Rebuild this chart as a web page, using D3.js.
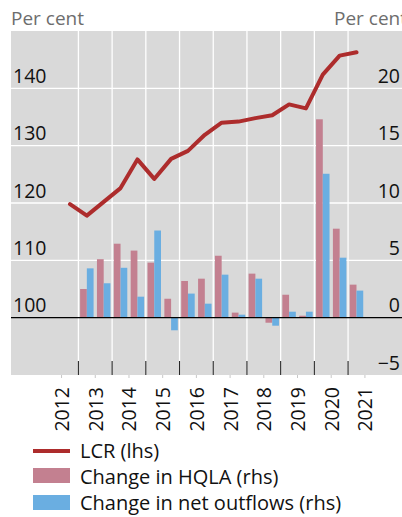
<!DOCTYPE html>
<html>
<head>
<meta charset="utf-8">
<script src="https://cdn.jsdelivr.net/npm/d3@7"></script>
<style>
  body { margin: 0; background: #fff; }
  text { font-family: "Open Sans", "Noto Sans", sans-serif; }
</style>
</head>
<body>
<svg id="vis" width="402" height="517"></svg>
<script>
// LCR, half-yearly, lhs
const lcrPeriods = ["2012 H2", "2013 H1", "2013 H2", "2014 H1", "2014 H2", "2015 H1", "2015 H2",
  "2016 H1", "2016 H2", "2017 H1", "2017 H2", "2018 H1", "2018 H2", "2019 H1", "2019 H2",
  "2020 H1", "2020 H2", "2021 H1"];
const lcrValues = [119.8, 117.8, 120.2, 122.6, 127.6, 124.2, 127.7, 129.1, 131.9, 134.0, 134.2,
  134.8, 135.3, 137.2, 136.5, 142.4, 145.7, 146.3];

// changes, rhs
const barPeriods = ["2013 H1", "2013 H2", "2014 H1", "2014 H2", "2015 H1", "2015 H2",
  "2016 H1", "2016 H2", "2017 H1", "2017 H2", "2018 H1", "2018 H2", "2019 H1", "2019 H2",
  "2020 H1", "2020 H2", "2021 H1"];
const hqlaChange = [2.5, 5.1, 6.45, 5.85, 4.8, 1.65, 3.2, 3.4, 5.4, 0.44, 3.84, -0.44, 2.0, 0.17, 17.3, 7.76, 2.88];
const outflowChange = [4.3, 3.0, 4.35, 1.83, 7.6, -1.1, 2.1, 1.22, 3.75, 0.26, 3.4, -0.7, 0.52, 0.52, 12.55, 5.23, 2.36];

const years = [2012, 2013, 2014, 2015, 2016, 2017, 2018, 2019, 2020, 2021];
const leftTicks = [100, 110, 120, 130, 140];
const rightTicks = [-5, 0, 5, 10, 15, 20];
const seriesNames = ["LCR (lhs)", "Change in HQLA (rhs)", "Change in net outflows (rhs)"];

const colors = { lcr: "#ad2c2c", hqla: "#c38090", outflow: "#6aaee1", bg: "#d9d9d9" };

const plot = { left: 11, right: 402, top: 31, bottom: 375 };

// "2013 H1" -> middle of that half year
function periodMid(p) {
  const parts = p.split(" ");
  return +parts[0] + (parts[1] === "H1" ? 0.25 : 0.75);
}

const svg = d3.select("svg#vis");

const x = d3.scaleLinear().domain([2011, 2022.6]).range([plot.left, plot.right]);
const yL = d3.scaleLinear().domain([90, 150]).range([plot.bottom, plot.top]);
const yR = d3.scaleLinear().domain([-5, 25]).range([plot.bottom, plot.top]);

const sub = d3.scaleBand().domain(["hqla", "outflow"])
  .range([-(x(2011.2) - x(2011)), x(2011.2) - x(2011)]);

// background
svg.append("rect")
  .attr("x", plot.left).attr("y", plot.top)
  .attr("width", plot.right - plot.left).attr("height", plot.bottom - plot.top)
  .attr("fill", colors.bg);

// horizontal grid
svg.append("g").selectAll("line")
  .data(leftTicks.filter(d => d !== 100))
  .enter().append("line")
  .attr("x1", plot.left).attr("x2", plot.right)
  .attr("y1", d => yL(d)).attr("y2", d => yL(d))
  .attr("stroke", "#fff").attr("stroke-width", 1.3);

// vertical grid at year boundaries + ticks at the bottom
const boundaries = years.slice(1);
svg.append("g").selectAll("line")
  .data(boundaries)
  .enter().append("line")
  .attr("x1", d => x(d)).attr("x2", d => x(d))
  .attr("y1", plot.top).attr("y2", plot.bottom - 14)
  .attr("stroke", "#fff").attr("stroke-width", 1.3);

svg.append("g").selectAll("line")
  .data(boundaries)
  .enter().append("line")
  .attr("x1", d => x(d)).attr("x2", d => x(d))
  .attr("y1", plot.bottom - 14).attr("y2", plot.bottom)
  .attr("stroke", "#222").attr("stroke-width", 1);

// small ticks at mid year
svg.append("g").selectAll("line")
  .data(years)
  .enter().append("line")
  .attr("x1", d => x(d + 0.5)).attr("x2", d => x(d + 0.5))
  .attr("y1", plot.bottom).attr("y2", plot.bottom + 3)
  .attr("stroke", "#c8c8c8").attr("stroke-width", 1);

// bars
const barData = barPeriods.map((p, i) => ({ t: periodMid(p), hqla: hqlaChange[i], outflow: outflowChange[i] }));
const groups = svg.append("g").selectAll("g")
  .data(barData)
  .enter().append("g")
  .attr("transform", d => "translate(" + x(d.t) + ",0)");

groups.selectAll("rect")
  .data(d => sub.domain().map(k => ({ key: k, value: d[k] })))
  .enter().append("rect")
  .attr("x", d => sub(d.key))
  .attr("width", sub.bandwidth())
  .attr("y", d => yR(Math.max(0, d.value)))
  .attr("height", d => Math.abs(yR(d.value) - yR(0)))
  .attr("fill", d => colors[d.key]);

// zero line
svg.append("line")
  .attr("x1", plot.left).attr("x2", plot.right)
  .attr("y1", yR(0)).attr("y2", yR(0))
  .attr("stroke", "#000").attr("stroke-width", 1.3);

// LCR line
const line = d3.line()
  .x(d => x(d.t))
  .y(d => yL(d.v));

svg.append("path")
  .datum(lcrPeriods.map((p, i) => ({ t: periodMid(p), v: lcrValues[i] })))
  .attr("d", line)
  .attr("fill", "none")
  .attr("stroke", colors.lcr)
  .attr("stroke-width", 4)
  .attr("stroke-linejoin", "round")
  .attr("stroke-linecap", "round");

// axis labels
svg.append("g").selectAll("text")
  .data(leftTicks)
  .enter().append("text")
  .attr("x", 13).attr("y", d => yL(d) - 5.5)
  .attr("font-size", 19.5).attr("fill", "#111")
  .text(d => d);

svg.append("g").selectAll("text")
  .data(rightTicks)
  .enter().append("text")
  .attr("x", 400).attr("y", d => yR(d) - 5.5)
  .attr("text-anchor", "end")
  .attr("font-size", 19.5).attr("fill", "#111")
  .text(d => d < 0 ? "\u2212" + Math.abs(d) : d);

svg.append("text").attr("x", 11).attr("y", 25)
  .attr("font-size", 19).attr("fill", "#6d6d6d").text("Per cent");
svg.append("text").attr("x", 334).attr("y", 25)
  .attr("font-size", 19).attr("fill", "#6d6d6d").text("Per cent");

// year labels
svg.append("g").selectAll("text")
  .data(years)
  .enter().append("text")
  .attr("transform", d => "translate(" + x(d + 0.5) + ",387) rotate(-90)")
  .attr("text-anchor", "end")
  .attr("dominant-baseline", "central")
  .attr("font-size", 19.5).attr("fill", "#111")
  .text(d => d);

// legend
const legend = svg.append("g").attr("transform", "translate(33,0)");
legend.append("line")
  .attr("x1", 0).attr("x2", 37).attr("y1", 451).attr("y2", 451)
  .attr("stroke", colors.lcr).attr("stroke-width", 4);
legend.append("rect").attr("x", 0).attr("y", 468).attr("width", 37).attr("height", 15)
  .attr("fill", colors.hqla);
legend.append("rect").attr("x", 0).attr("y", 495).attr("width", 37).attr("height", 15)
  .attr("fill", colors.outflow);

legend.selectAll("text")
  .data(seriesNames)
  .enter().append("text")
  .attr("x", 47)
  .attr("y", (d, i) => 458 + i * 26)
  .attr("font-size", 20).attr("fill", "#111")
  .text(d => d);
</script>
</body>
</html>
